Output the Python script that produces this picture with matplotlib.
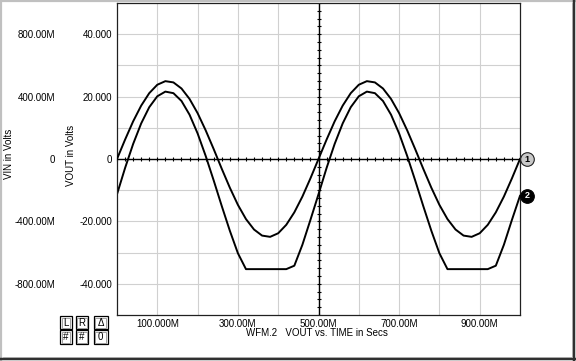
import numpy as np
import matplotlib
matplotlib.use("Agg")
import matplotlib.pyplot as plt
from matplotlib.lines import Line2D
from matplotlib.patches import Rectangle
from matplotlib.transforms import offset_copy

plt.rcParams['font.family'] = ['Liberation Sans', 'DejaVu Sans']

# time axis in ms, one sample every 20 ms
time_ms = list(range(0, 1001, 20))

# VIN in volts (left scale, 800.00M = 0.8 V)
vin = [0.000, 0.124, 0.241, 0.342, 0.422, 0.476, 0.499, 0.491, 0.452, 0.385,
       0.294, 0.184, 0.063, -0.063, -0.184, -0.294, -0.385, -0.452, -0.491, -0.499,
       -0.476, -0.422, -0.342, -0.241, -0.124,
       0.000, 0.124, 0.241, 0.342, 0.422, 0.476, 0.499, 0.491, 0.452, 0.385,
       0.294, 0.184, 0.063, -0.063, -0.184, -0.294, -0.385, -0.452, -0.491, -0.499,
       -0.476, -0.422, -0.342, -0.241, -0.124, 0.000]

# VOUT in volts (clipped at the bottom)
vout = [-11.3, -2.9, 4.8, 11.4, 16.6, 20.1, 21.6, 21.1, 18.6, 14.2,
        8.2, 1.0, -6.9, -15.1, -23.0, -30.2, -35.3, -35.3, -35.3, -35.3,
        -35.3, -35.3, -34.2, -27.5, -19.5,
        -11.3, -2.9, 4.8, 11.4, 16.6, 20.1, 21.6, 21.1, 18.6, 14.2,
        8.2, 1.0, -6.9, -15.1, -23.0, -30.2, -35.3, -35.3, -35.3, -35.3,
        -35.3, -35.3, -34.2, -27.5, -19.5, -11.8]

x_ticks = [100, 200, 300, 400, 500, 600, 700, 800, 900]
x_labels = ['100.000M', '', '300.00M', '', '500.00M', '', '700.00M', '', '900.00M']
vout_ticks = [-40, -30, -20, -10, 0, 10, 20, 30, 40]
vout_labels = ['-40.000', '', '-20.000', '', '0', '', '20.000', '', '40.000']
vin_ticks = [-0.8, -0.4, 0.0, 0.4, 0.8]
vin_labels = ['-800.00M', '-400.00M', '0', '400.00M', '800.00M']

W, H = 576, 361
fig = plt.figure(figsize=(W / 100, H / 100), dpi=100)
fig.patch.set_facecolor('white')


def fx(px):
    return px / W


def fy(py):
    return 1 - py / H


# window frame
for x0, y0, x1, y1, c, lw in [
        (0, 1, 576, 1, '#c0c0c0', 2.2), (1, 0, 1, 361, '#c0c0c0', 2.2),
        (0, 358.5, 576, 358.5, '#303030', 2.5), (573.5, 0, 573.5, 361, '#303030', 2.5),
        (3, 356.5, 572, 356.5, '#a0a0a0', 0.8), (571.5, 3, 571.5, 357, '#a0a0a0', 0.8)]:
    fig.add_artist(Line2D([fx(x0), fx(x1)], [fy(y0), fy(y1)], color=c, lw=lw * 0.72,
                          transform=fig.transFigure))

ax = fig.add_axes([fx(117), fy(315), fx(520) - fx(117), fy(3) - fy(315)])
ax.set_xlim(0, 1000)
ax.set_ylim(-50, 50)
ax.set_xticks(x_ticks)
ax.set_xticklabels(x_labels)
ax.set_yticks(vout_ticks)
ax.set_yticklabels(vout_labels)
ax.grid(color='#d0d0d0', lw=0.8)
ax.set_axisbelow(True)
ax.tick_params(length=0, labelsize=7, colors='black')
ax.tick_params(axis='x', pad=3)
ax.tick_params(axis='y', pad=3.6)
for s in ax.spines.values():
    s.set_color('#202020')
    s.set_linewidth(0.9)

# axis cross with small ticks
ax.axhline(0, color='black', lw=1.0)
ax.axvline(500, color='black', lw=1.0)
hx = np.arange(0, 1001, 20)
ax.plot(hx, np.zeros(len(hx)), ls='none', marker='|', ms=3, mew=0.8, color='black', clip_on=False)
vy = np.arange(-50, 50.1, 2.5)
ax.plot(np.full(len(vy), 500), vy, ls='none', marker='_', ms=3, mew=0.8, color='black')

ax.plot(time_ms, vout, color='black', lw=1.4)

ax2 = ax.twinx()
ax2.set_ylim(-1, 1)
ax2.plot(time_ms, vin, color='black', lw=1.4)
ax2.set_yticks(vin_ticks)
ax2.set_yticklabels(vin_labels)
ax2.yaxis.set_ticks_position('left')
ax2.tick_params(length=0, labelsize=7, pad=44.6)
for s in ax2.spines.values():
    s.set_visible(False)

# end-of-trace markers
tr1 = offset_copy(ax2.transData, fig=fig, x=7, y=0, units='dots')
ax2.plot([time_ms[-1]], [vin[-1]], marker='o', ms=9.8, mfc='#c8c8c8', mec='#202020',
         mew=0.8, transform=tr1, clip_on=False)
ax2.text(time_ms[-1], vin[-1], '1', transform=tr1, ha='center', va='center',
         fontsize=6.5, fontweight='bold', color='black')
tr2 = offset_copy(ax.transData, fig=fig, x=7, y=0, units='dots')
ax.plot([time_ms[-1]], [vout[-1]], marker='o', ms=9.8, mfc='black', mec='black',
        mew=0.8, transform=tr2, clip_on=False, zorder=5)
ax.text(time_ms[-1], vout[-1], '2', transform=tr2, ha='center', va='center',
        fontsize=6.5, fontweight='bold', color='white', zorder=6)

# axis titles
fig.text(fx(9), fy(154), 'VIN in Volts', rotation=90, ha='center', va='center', fontsize=7)
fig.text(fx(71), fy(155), 'VOUT in Volts', rotation=90, ha='center', va='center', fontsize=7)
fig.text(fx(317), fy(333), 'WFM.2   VOUT vs. TIME in Secs', ha='center', va='center', fontsize=7)

# L R delta buttons (double outline)
for col, (x0, x1) in enumerate([(60, 71.5), (75.5, 88), (93.5, 108)]):
    for row, (y0, y1) in enumerate([(316, 329), (330, 344)]):
        fig.add_artist(Rectangle((fx(x0), fy(y1)), fx(x1) - fx(x0), fy(y0) - fy(y1),
                                 fill=False, ec='black', lw=0.9, transform=fig.transFigure))
        fig.add_artist(Rectangle((fx(x0 + 1.5), fy(y1 - 1.5)), fx(x1 - x0 - 3), fy(y0 + 1.5) - fy(y1 - 1.5),
                                 fill=False, ec='#909090', lw=0.6, transform=fig.transFigure))
        lab = [['L', '#'], ['R', '#'], ['\u0394', '0']][col][row]
        fig.text(fx((x0 + x1) / 2), fy((y0 + y1) / 2), lab, ha='center', va='center',
                 fontsize=7)

fig.savefig('out.png', dpi=100, facecolor='white')
